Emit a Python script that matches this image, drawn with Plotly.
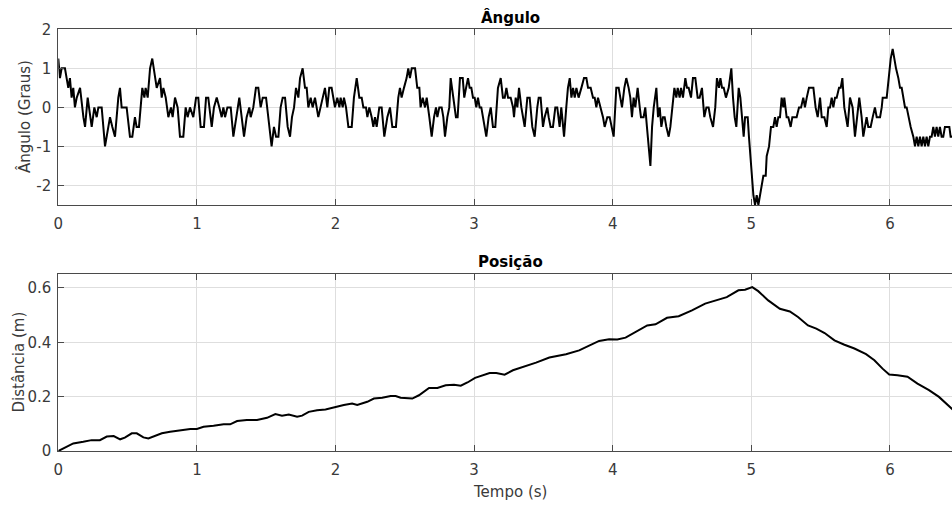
import plotly.graph_objects as go

# ---- Ângulo: sampled angle signal (time in s, angle in degrees) ----
angle_t = [
    0.000, 0.012, 0.024, 0.048, 0.060, 0.072, 0.084, 0.096, 0.108, 0.120, 0.133, 0.157, 0.181, 0.193,
    0.212, 0.229, 0.241, 0.260, 0.277, 0.289, 0.313, 0.337, 0.349, 0.373, 0.390, 0.409, 0.433, 0.445,
    0.457, 0.493, 0.517, 0.534, 0.553, 0.565, 0.582, 0.606, 0.621, 0.630, 0.645, 0.662, 0.678, 0.698,
    0.710, 0.734, 0.746, 0.758, 0.775, 0.794, 0.813, 0.825, 0.842, 0.861, 0.878, 0.902, 0.919, 0.933,
    0.950, 0.974, 0.994, 1.010, 1.027, 1.051, 1.066, 1.082, 1.107, 1.123, 1.143, 1.162, 1.179, 1.191,
    1.203, 1.220, 1.244, 1.263, 1.287, 1.306, 1.323, 1.340, 1.359, 1.378, 1.388, 1.407, 1.426, 1.443,
    1.460, 1.475, 1.499, 1.523, 1.539, 1.556, 1.571, 1.588, 1.604, 1.619, 1.636, 1.655, 1.672, 1.686,
    1.701, 1.715, 1.732, 1.744, 1.763, 1.780, 1.792, 1.804, 1.821, 1.835, 1.852, 1.876, 1.893, 1.907,
    1.924, 1.941, 1.955, 1.972, 1.996, 2.013, 2.028, 2.037, 2.052, 2.061, 2.076, 2.093, 2.117, 2.133,
    2.153, 2.172, 2.189, 2.201, 2.220, 2.230, 2.244, 2.261, 2.273, 2.285, 2.297, 2.316, 2.333, 2.352,
    2.364, 2.374, 2.393, 2.410, 2.436, 2.453, 2.465, 2.477, 2.494, 2.513, 2.525, 2.537, 2.550, 2.574,
    2.590, 2.605, 2.614, 2.629, 2.646, 2.658, 2.677, 2.694, 2.711, 2.725, 2.735, 2.749, 2.766, 2.778,
    2.790, 2.807, 2.821, 2.831, 2.850, 2.869, 2.881, 2.898, 2.918, 2.929, 2.942, 2.956, 2.968, 2.980,
    2.992, 3.004, 3.016, 3.028, 3.040, 3.052, 3.064, 3.088, 3.105, 3.120, 3.136, 3.153, 3.172, 3.192,
    3.208, 3.221, 3.233, 3.245, 3.264, 3.281, 3.288, 3.300, 3.312, 3.324, 3.341, 3.353, 3.365, 3.384,
    3.401, 3.420, 3.437, 3.456, 3.466, 3.480, 3.497, 3.509, 3.528, 3.538, 3.552, 3.569, 3.586, 3.600,
    3.617, 3.629, 3.649, 3.665, 3.677, 3.690, 3.702, 3.714, 3.726, 3.738, 3.754, 3.774, 3.793, 3.810,
    3.822, 3.841, 3.858, 3.870, 3.882, 3.894, 3.913, 3.930, 3.942, 3.961, 3.978, 3.995, 4.007, 4.026,
    4.043, 4.055, 4.067, 4.084, 4.098, 4.115, 4.127, 4.139, 4.151, 4.163, 4.180, 4.195, 4.204, 4.223,
    4.235, 4.247, 4.260, 4.272, 4.284, 4.296, 4.315, 4.327, 4.339, 4.351, 4.363, 4.375, 4.387, 4.404,
    4.416, 4.435, 4.445, 4.459, 4.469, 4.483, 4.493, 4.507, 4.524, 4.536, 4.548, 4.565, 4.579, 4.596,
    4.613, 4.627, 4.644, 4.661, 4.676, 4.692, 4.704, 4.724, 4.740, 4.752, 4.767, 4.777, 4.789, 4.801,
    4.817, 4.837, 4.856, 4.868, 4.880, 4.892, 4.909, 4.921, 4.933, 4.945, 4.955, 4.974, 4.983, 4.998,
    5.015, 5.027, 5.039, 5.051, 5.063, 5.075, 5.087, 5.104, 5.111, 5.128, 5.142, 5.159, 5.171, 5.183,
    5.195, 5.207, 5.219, 5.231, 5.238, 5.255, 5.267, 5.284, 5.296, 5.311, 5.327, 5.344, 5.359, 5.375,
    5.387, 5.400, 5.416, 5.448, 5.464, 5.479, 5.496, 5.508, 5.527, 5.544, 5.556, 5.568, 5.580, 5.592,
    5.604, 5.616, 5.633, 5.645, 5.657, 5.671, 5.681, 5.695, 5.712, 5.731, 5.748, 5.765, 5.779, 5.796,
    5.808, 5.820, 5.832, 5.844, 5.861, 5.876, 5.892, 5.905, 5.929, 5.941, 5.948, 5.977, 5.996, 6.006,
    6.020, 6.030, 6.044, 6.061, 6.073, 6.085, 6.097, 6.109, 6.121, 6.133, 6.150, 6.169, 6.181, 6.193,
    6.205, 6.217, 6.229, 6.241, 6.253, 6.265, 6.277, 6.289, 6.301, 6.313, 6.325, 6.337, 6.349, 6.361,
    6.373, 6.385, 6.397, 6.414, 6.429, 6.438, 6.448, 6.500,
]
angle_deg = [
    1.25, 0.75, 1.0, 1.0, 0.75, 0.5, 0.75, 0.25, 0.5, 0.0, 0.25, 0.5, -0.25, -0.5,
    0.25, -0.25, -0.5, 0.0, -0.25, 0.0, 0.0, -1.0, -0.75, -0.25, -0.5, -0.75, 0.25, 0.5,
    0.0, 0.0, -0.75, -0.75, -0.25, -0.5, -0.5, 0.5, 0.25, 0.5, 0.25, 1.0, 1.25, 0.75,
    0.5, 0.75, 0.25, 0.5, 0.25, -0.25, 0.0, -0.25, 0.25, 0.0, -0.75, -0.75, 0.0, -0.25,
    0.0, -0.25, 0.25, 0.25, -0.5, -0.5, 0.25, 0.25, -0.5, 0.0, 0.25, 0.0, -0.25, 0.0,
    -0.25, 0.0, 0.0, -0.75, -0.25, 0.25, -0.25, -0.75, -0.25, 0.0, -0.25, 0.0, 0.5, 0.5,
    0.0, 0.25, 0.25, -0.5, -1.0, -0.5, -0.75, -0.75, 0.0, 0.25, 0.25, -0.5, -0.75, -0.25,
    0.0, 0.5, 0.25, 0.75, 1.0, 0.5, 0.5, 0.0, 0.25, 0.0, 0.25, -0.25, 0.0, 0.25,
    0.5, 0.0, 0.5, 0.5, 0.0, 0.25, 0.0, 0.25, 0.0, 0.25, 0.0, -0.5, -0.5, 0.25,
    0.75, 0.25, 0.25, 0.0, 0.0, -0.25, 0.0, -0.25, -0.5, -0.25, -0.5, 0.0, 0.0, -0.75,
    -0.5, -0.25, 0.0, -0.5, -0.5, 0.25, 0.5, 0.25, 0.5, 0.75, 1.0, 0.75, 1.0, 1.0,
    0.5, 0.5, 0.0, 0.25, 0.0, 0.25, -0.25, -0.75, -0.25, 0.0, -0.25, 0.0, 0.0, -0.25,
    -0.75, -0.25, 0.0, 0.75, 0.25, -0.25, -0.25, 0.75, 0.75, 0.25, 0.5, 0.75, 0.5, 0.5,
    0.25, 0.25, 0.0, 0.25, 0.0, 0.0, -0.25, -0.75, -0.25, 0.0, -0.5, -0.5, 0.5, 0.75,
    0.25, 0.25, 0.5, 0.25, 0.25, 0.0, -0.25, 0.25, 0.0, 0.5, 0.0, -0.25, -0.5, 0.25,
    0.25, -0.5, -0.75, 0.0, 0.25, 0.25, -0.5, -0.25, 0.0, -0.25, -0.5, -0.5, 0.0, 0.0,
    -0.5, 0.0, -0.75, 0.0, 0.5, 0.75, 0.25, 0.5, 0.25, 0.5, 0.25, 0.5, 0.75, 0.75,
    0.5, 0.5, 0.25, 0.25, 0.0, 0.25, 0.0, -0.25, -0.5, -0.25, -0.25, -0.5, -0.75, 0.5,
    0.5, 0.25, 0.0, 0.5, 0.75, 0.5, 0.25, -0.25, 0.25, 0.0, 0.5, 0.0, -0.25, -0.25,
    0.0, -0.5, -1.0, -1.5, -0.5, 0.0, 0.5, -0.25, 0.0, -0.5, -0.25, -0.25, -0.5, -0.75,
    -0.5, 0.25, 0.5, 0.25, 0.5, 0.25, 0.5, 0.25, 0.75, 0.5, 0.5, 0.25, 0.75, 0.75,
    0.25, 0.25, 0.5, -0.25, 0.0, 0.0, -0.25, -0.5, 0.0, 0.75, 0.5, 0.75, 0.5, 0.5,
    0.25, 0.5, 1.0, 0.25, -0.25, -0.5, 0.5, 0.25, -0.25, -0.75, -0.25, -0.25, -0.75, -1.5,
    -2.25, -2.5, -2.25, -2.5, -2.25, -2.0, -1.75, -1.75, -1.25, -1.0, -0.5, -0.5, -0.25, -0.5,
    -0.25, -0.25, 0.25, 0.0, 0.25, -0.25, -0.25, -0.5, -0.25, -0.25, -0.25, 0.0, 0.0, 0.25,
    0.0, 0.25, 0.5, 0.5, 0.0, -0.25, 0.25, -0.25, -0.25, -0.5, 0.0, 0.0, 0.25, 0.0,
    0.25, 0.25, 0.5, 0.5, 0.75, 0.0, -0.25, -0.5, 0.25, 0.0, -0.75, -0.25, 0.25, -0.25,
    -0.75, -0.5, -0.25, -0.5, -0.5, -0.25, 0.0, -0.25, -0.25, 0.0, 0.25, 0.25, 1.0, 1.25,
    1.5, 1.25, 1.0, 0.75, 0.5, 0.5, 0.25, 0.0, 0.0, -0.25, -0.5, -0.75, -1.0, -0.75,
    -1.0, -0.75, -1.0, -0.75, -1.0, -0.75, -1.0, -0.75, -0.75, -0.5, -0.75, -0.5, -0.75, -0.5,
    -0.75, -0.75, -0.5, -0.5, -0.5, -0.75, -0.75, -0.6,
]

# ---- Posição: distance travelled (time in s, distance in m) ----
pos_t = [
    0.000, 0.060, 0.108, 0.180, 0.240, 0.300, 0.350, 0.400, 0.446, 0.480, 0.530, 0.566, 0.614, 0.650,
    0.700, 0.747, 0.807, 0.880, 0.952, 1.000, 1.048, 1.120, 1.193, 1.240, 1.290, 1.360, 1.434, 1.506,
    1.566, 1.614, 1.663, 1.723, 1.759, 1.807, 1.867, 1.928, 2.005, 2.060, 2.120, 2.157, 2.229, 2.277,
    2.337, 2.398, 2.434, 2.470, 2.554, 2.602, 2.675, 2.735, 2.795, 2.855, 2.904, 2.952, 3.007, 3.041,
    3.112, 3.160, 3.220, 3.280, 3.352, 3.447, 3.543, 3.591, 3.663, 3.758, 3.830, 3.902, 3.974, 4.033,
    4.093, 4.165, 4.249, 4.309, 4.392, 4.476, 4.572, 4.667, 4.739, 4.823, 4.907, 4.955, 5.007, 5.050,
    5.122, 5.206, 5.278, 5.337, 5.409, 5.469, 5.529, 5.600, 5.672, 5.744, 5.828, 5.888, 5.947, 5.995,
    6.055, 6.127, 6.199, 6.282, 6.354, 6.428, 6.500,
]
pos_m = [
    0.000, 0.016, 0.028, 0.034, 0.040, 0.040, 0.053, 0.055, 0.043, 0.049, 0.065, 0.065, 0.050, 0.046,
    0.056, 0.065, 0.071, 0.077, 0.081, 0.081, 0.089, 0.093, 0.098, 0.098, 0.110, 0.114, 0.114, 0.122,
    0.136, 0.130, 0.134, 0.126, 0.130, 0.144, 0.150, 0.153, 0.163, 0.169, 0.175, 0.169, 0.181, 0.193,
    0.196, 0.202, 0.202, 0.196, 0.193, 0.205, 0.232, 0.232, 0.242, 0.244, 0.240, 0.252, 0.269, 0.275,
    0.287, 0.287, 0.281, 0.297, 0.309, 0.325, 0.344, 0.348, 0.356, 0.370, 0.389, 0.405, 0.411, 0.410,
    0.417, 0.438, 0.462, 0.466, 0.490, 0.496, 0.517, 0.542, 0.554, 0.566, 0.591, 0.593, 0.603, 0.588,
    0.554, 0.523, 0.513, 0.493, 0.462, 0.450, 0.434, 0.407, 0.391, 0.377, 0.356, 0.334, 0.303, 0.281,
    0.279, 0.273, 0.248, 0.224, 0.199, 0.163, 0.130,
]

# ---- Axis ticks ----
time_ticks = [0, 1, 2, 3, 4, 5, 6]
time_labels = ["0", "1", "2", "3", "4", "5", "6"]
angle_ticks = [-2, -1, 0, 1, 2]
angle_labels = ["-2", "-1", "0", "1", "2"]
pos_ticks = [0, 0.2, 0.4, 0.6]
pos_labels = ["0", "0.2", "0.4", "0.6"]

W, H = 952, 505
FONT = "DejaVu Sans, Verdana, sans-serif"
FS = 15
TXT = "#3a3a3a"
AXC = "#4a4a4a"
GRID = "#dedede"

x_left = 58.3
px_per_s = 138.6
x_dom = [x_left / W, 1.0]
top_dom = [1 - 205.0 / H, 1 - 29.3 / H]
bot_dom = [1 - 451.0 / H, 1 - 274.3 / H]

fig = go.Figure()
fig.add_trace(go.Scatter(x=angle_t, y=angle_deg, mode="lines",
                         line=dict(color="#000000", width=2), xaxis="x", yaxis="y",
                         showlegend=False, hoverinfo="skip"))
fig.add_trace(go.Scatter(x=pos_t, y=pos_m, mode="lines",
                         line=dict(color="#000000", width=2), xaxis="x2", yaxis="y2",
                         showlegend=False, hoverinfo="skip"))

x_end = (W - x_left) / px_per_s

common_x = dict(domain=x_dom, range=[0, x_end], tickmode="array", tickvals=time_ticks,
                ticktext=time_labels, showgrid=True, gridcolor=GRID, gridwidth=1,
                zeroline=False, showline=True, linecolor=AXC, linewidth=1, mirror="ticks",
                ticks="inside", ticklen=6, tickcolor=AXC, tickwidth=1,
                tickfont=dict(family=FONT, size=FS, color=TXT), fixedrange=True,
                ticklabelstandoff=5, automargin=False)
common_y = dict(showgrid=True, gridcolor=GRID, gridwidth=1, zeroline=False, showline=True,
                linecolor=AXC, linewidth=1, ticks="inside", ticklen=6, tickcolor=AXC,
                tickwidth=1, tickfont=dict(family=FONT, size=FS, color=TXT),
                tickmode="array", fixedrange=True, ticklabelstandoff=3, automargin=False)

fig.update_layout(
    width=W, height=H, margin=dict(l=0, r=0, t=0, b=0, autoexpand=False),
    paper_bgcolor="white", plot_bgcolor="white",
    xaxis=dict(anchor="y", **common_x),
    yaxis=dict(domain=top_dom, range=[-2.5, 2], anchor="x", tickvals=angle_ticks,
               ticktext=angle_labels, **common_y),
    xaxis2=dict(anchor="y2", **common_x),
    yaxis2=dict(domain=bot_dom, range=[0, 0.65], anchor="x2", tickvals=pos_ticks,
                ticktext=pos_labels, **common_y),
)

cx = 510 / W


def px_y(py):
    return 1 - py / H


annotations = [
    dict(text="<b>Ângulo</b>", x=cx, y=px_y(17), font=dict(family=FONT, size=FS, color="#000")),
    dict(text="<b>Posição</b>", x=cx, y=px_y(262), font=dict(family=FONT, size=FS, color="#000")),
    dict(text="Tempo (s)", x=cx, y=px_y(492), font=dict(family=FONT, size=FS, color=TXT)),
    dict(text="Ângulo (Graus)", x=25 / W, y=px_y(117), textangle=-90,
         font=dict(family=FONT, size=FS, color=TXT)),
    dict(text="Distância (m)", x=18 / W, y=px_y(362.5), textangle=-90,
         font=dict(family=FONT, size=FS, color=TXT)),
]
for a in annotations:
    a.update(xref="paper", yref="paper", showarrow=False, xanchor="center", yanchor="middle")
fig.update_layout(annotations=annotations)

fig.write_html("out.html", config={"displayModeBar": False})
